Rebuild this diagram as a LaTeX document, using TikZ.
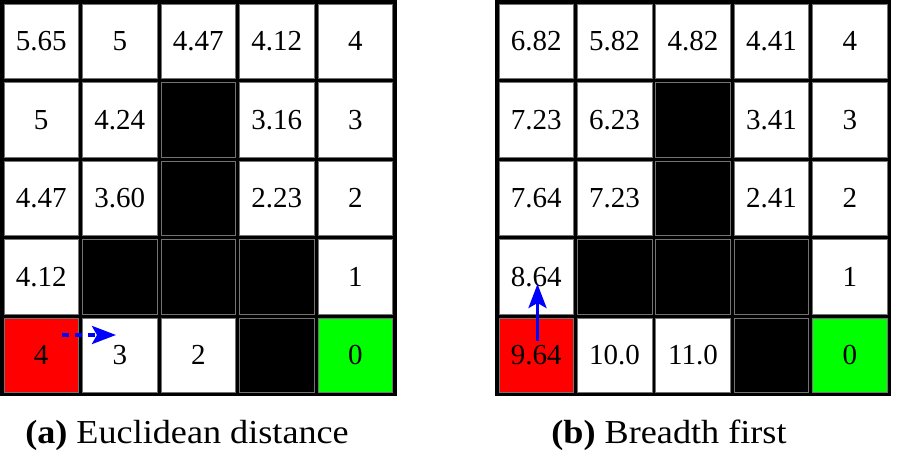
\documentclass[tikz,border=0pt]{standalone}
\usepackage{fontspec}
\setmainfont{Liberation Serif}[FakeStretch=1.08]
\newfontfamily\numfam{Liberation Serif}
\usetikzlibrary{arrows.meta}
\newcommand\numfont{\numfam\fontsize{29}{32}\selectfont}
\newcommand\capfont{\fontsize{33.5}{38}\selectfont}
\begin{document}
\begin{tikzpicture}[x=1pt,y=-1pt,
  wcell/.style={minimum width=74.5pt, minimum height=74.5pt, inner sep=0pt,
    draw=black!55, line width=0.6pt, fill=white, font=\numfont},
  bcell/.style={wcell, fill=black},
  rcell/.style={wcell, fill={rgb,255:red,255;green,0;blue,0}},
  gcell/.style={wcell, fill={rgb,255:red,0;green,255;blue,0}},
  caption/.style={anchor=base, font=\capfont},
  path arrow/.style={draw={rgb,255:red,0;green,0;blue,255}, line width=3.6pt,
    -{Stealth[length=24pt,width=18pt,inset=5pt]}}
]
\useasboundingbox (0,0) rectangle (898,457);
% grid backgrounds (the thick black lines)
\fill[black] (0,0) rectangle (396.5,396.5);
\fill[black] (495,0) rectangle (891,396.5);
% left grid
\foreach \r/\row in {
  0/{wcell/5.65,wcell/5,wcell/4.47,wcell/4.12,wcell/4},
  1/{wcell/5,wcell/4.24,bcell/{},wcell/3.16,wcell/3},
  2/{wcell/4.47,wcell/3.60,bcell/{},wcell/2.23,wcell/2},
  3/{wcell/4.12,bcell/{},bcell/{},bcell/{},wcell/1},
  4/{rcell/4,wcell/3,wcell/2,bcell/{},gcell/0}} {
  \foreach \s/\t [count=\c from 0] in \row {
    \node[\s] (L\r\c) at ({41.25+78.5*\c},{41.25+78.5*\r}) {\t};
  }
}
% right grid
\foreach \r/\row in {
  0/{wcell/6.82,wcell/5.82,wcell/4.82,wcell/4.41,wcell/4},
  1/{wcell/7.23,wcell/6.23,bcell/{},wcell/3.41,wcell/3},
  2/{wcell/7.64,wcell/7.23,bcell/{},wcell/2.41,wcell/2},
  3/{wcell/8.64,bcell/{},bcell/{},bcell/{},wcell/1},
  4/{rcell/9.64,wcell/10.0,wcell/11.0,bcell/{},gcell/0}} {
  \foreach \s/\t [count=\c from 0] in \row {
    \node[\s] (R\r\c) at ({536.2+78.4*\c},{41.25+78.5*\r}) {\t};
  }
}
% arrows
\coordinate (as) at (62,335);
\coordinate (ae) at (116,335);
\draw[path arrow, dash pattern=on 7pt off 6pt] (as) -- (ae);
\coordinate (bs) at (537.5,341);
\coordinate (be) at (537.5,284);
\draw[path arrow] (bs) -- (be);
% captions
\node[caption] (capa) at (187,443) {\textbf{(a)} Euclidean distance};
\node[caption] (capb) at (669,443) {\textbf{(b)} Breadth first};
\end{tikzpicture}
\end{document}
